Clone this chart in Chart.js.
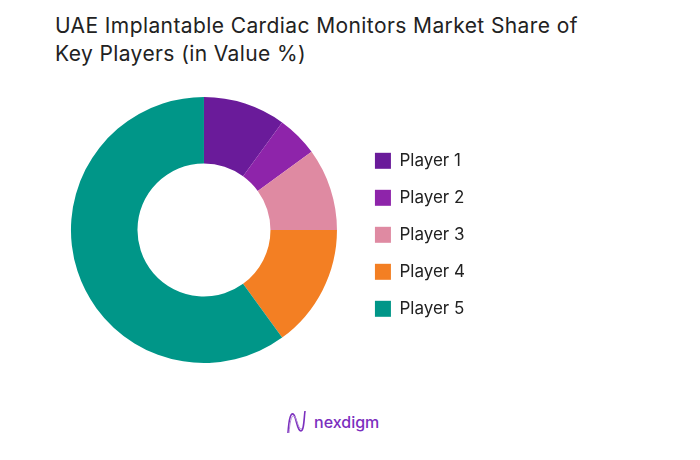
<!DOCTYPE html>
<html lang="en">
<head>
    <meta charset="UTF-8">
    <title>UAE Implantable Cardiac Monitors Market Share</title>
    <script src="https://cdn.jsdelivr.net/npm/chart.js"></script>
    <style>
        body { margin: 0; background: #fff; font-family: Inter, "Open Sans", sans-serif; }
        .page { position: relative; width: 700px; height: 460px; overflow: hidden; }
        .title { position: absolute; left: 55px; top: 12px; font-size: 21px; line-height: 28px; color: #222; letter-spacing: 0.4px; }
        #chartBox { position: absolute; left: 0; top: 90px; width: 520px; height: 280px; }
        .logo { position: absolute; left: 286px; top: 409px; display: flex; align-items: center; }
        .logo span { font-size: 16px; font-weight: 500; color: #7b2fbe; margin-left: 7px; }
    </style>
</head>
<body>
<div class="page">
    <div class="title">UAE Implantable Cardiac Monitors Market Share of<br>Key Players (in Value %)</div>
    <div id="chartBox"><canvas id="shareChart"></canvas></div>
    <div class="logo">
        <svg width="21" height="26" viewBox="0 0 21 26">
            <path d="M2 24 C3 9, 5 2, 8 6 C11 11, 11 22, 15 22 C18 22, 18 9, 19 2" fill="none" stroke="#7b2fbe" stroke-width="1.6"/>
            <path d="M3 24 C4 11, 6 4, 9 8 C12 13, 12 20, 16 20" fill="none" stroke="#b48ad8" stroke-width="1"/>
        </svg>
        <span>nexdigm</span>
    </div>
</div>

<script>
    // chart data
    const players = ['Player 1', 'Player 2', 'Player 3', 'Player 4', 'Player 5'];
    const shares = [10, 5, 10, 15, 60];
    const sliceColors = ['#6a1b9a', '#8e24aa', '#df8aa2', '#f37f23', '#009688'];

    window.addEventListener('load', function() {
        const ctx = document.getElementById('shareChart').getContext('2d');
        new Chart(ctx, {
            type: 'doughnut',
            data: {
                labels: players,
                datasets: [{
                    data: shares,
                    backgroundColor: sliceColors,
                    borderWidth: 0
                }]
            },
            options: {
                responsive: true,
                maintainAspectRatio: false,
                animation: false,
                cutout: '50%',
                layout: { padding: { left: 53, right: 45, top: 7, bottom: 7 } },
                plugins: {
                    tooltip: { enabled: false },
                    legend: {
                        position: 'right',
                        // empty title only nudges the items down a little
                        title: { display: true, text: ' ', padding: 0, font: { size: 8 } },
                        labels: {
                            boxWidth: 16,
                            boxHeight: 16,
                            padding: 20,
                            color: '#222',
                            font: { family: 'Inter', size: 17 }
                        }
                    }
                }
            }
        });
    });
</script>
</body>
</html>
